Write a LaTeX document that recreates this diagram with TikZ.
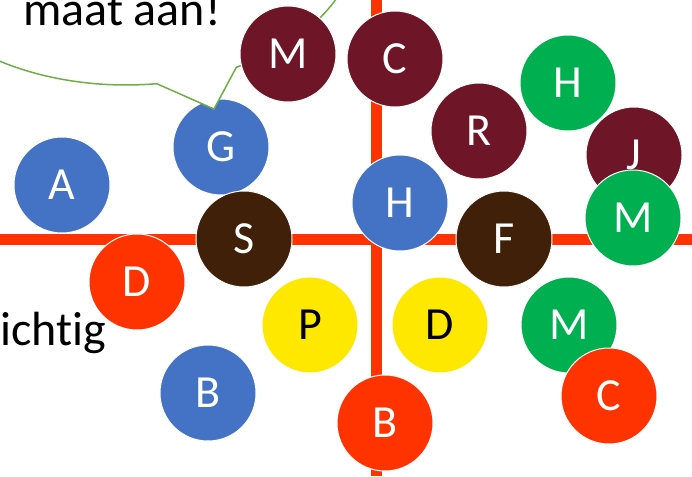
\documentclass[tikz,border=0pt]{standalone}
\usepackage{fontspec}
\setmainfont{Carlito}[Ligatures=NoCommon]
\usetikzlibrary{positioning, shapes, shapes.callouts}

\definecolor{dotblue}{RGB}{68,114,196}
\definecolor{dotmaroon}{RGB}{110,21,40}
\definecolor{dotgreen}{RGB}{0,176,80}
\definecolor{dotred}{RGB}{255,51,0}
\definecolor{dotbrown}{RGB}{64,32,8}
\definecolor{dotyellow}{RGB}{255,232,0}
\definecolor{bubblegreen}{RGB}{112,173,71}

\tikzset{
	dot/.style={circle, draw=white, line width=1pt, minimum size=96pt, inner sep=0pt,
	text=white, font=\fontsize{46}{46}\selectfont},
	axis/.style={draw=dotred, line width=11pt},
	bigtext/.style={inner sep=0pt, font=\fontsize{48}{50}\selectfont}
}

\begin{document}
\begin{tikzpicture}[x=1pt, y=-1pt]
		
		\useasboundingbox (0,0) rectangle (692,476);
		\clip (0,0) rectangle (692,476);
		
		%Axes
		\coordinate (top) at (376,0);
		\coordinate (bottom) at (376,476);
		\coordinate (left) at (0,239);
		\coordinate (right) at (692,239);
		\path [axis] (top) -- (bottom);
		\path [axis] (left) -- (right);
		
		%Circles under the bubble
		\node [dot, fill=dotblue] (g) at (221,147) {G};
		
		%Speech bubble
		\node [ellipse callout, draw=bubblegreen, fill=white, line width=1.5pt, 
		minimum width=460pt, minimum height=290pt, callout pointer arc=21,
		callout absolute pointer={(214,109)}] (bubble) at (126,-60) {};
		\node [bigtext, anchor=base west] (slogan) at (23,26) {maat aan!};
		\node [bigtext, anchor=base west] (side) at (0,345) {ichtig};
		
		%Circles, left half
		\node [dot, fill=dotblue] (a) at (62,185) {A};
		\node [dot, fill=dotmaroon] (m1) at (288,54) {M};
		\node [dot, fill=dotbrown] (s) at (244,239) {S};
		\node [dot, fill=dotred] (d1) at (137,282) {D};
		\node [dot, fill=dotyellow, text=black] (p) at (310,325) {P};
		\node [dot, fill=dotblue] (b1) at (208,393) {B};
		
		%Circles, right half
		\node [dot, fill=dotmaroon] (c1) at (395,59) {C};
		\node [dot, fill=dotmaroon] (r) at (479,131) {R};
		\node [dot, fill=dotgreen] (h1) at (568,83) {H};
		\node [dot, fill=dotmaroon] (j) at (634,155) {J};
		\node [dot, fill=dotgreen] (m2) at (633,218) {M};
		\node [dot, fill=dotblue] (h2) at (400,203) {H};
		\node [dot, fill=dotbrown] (f) at (504,239) {F};
		\node [dot, fill=dotyellow, text=black] (d2) at (440,325) {D};
		\node [dot, fill=dotgreen] (m3) at (569,325) {M};
		\node [dot, fill=dotred] (c2) at (609,396) {C};
		\node [dot, fill=dotred] (b2) at (385,423) {B};
		
		\end{tikzpicture}
\end{document}
